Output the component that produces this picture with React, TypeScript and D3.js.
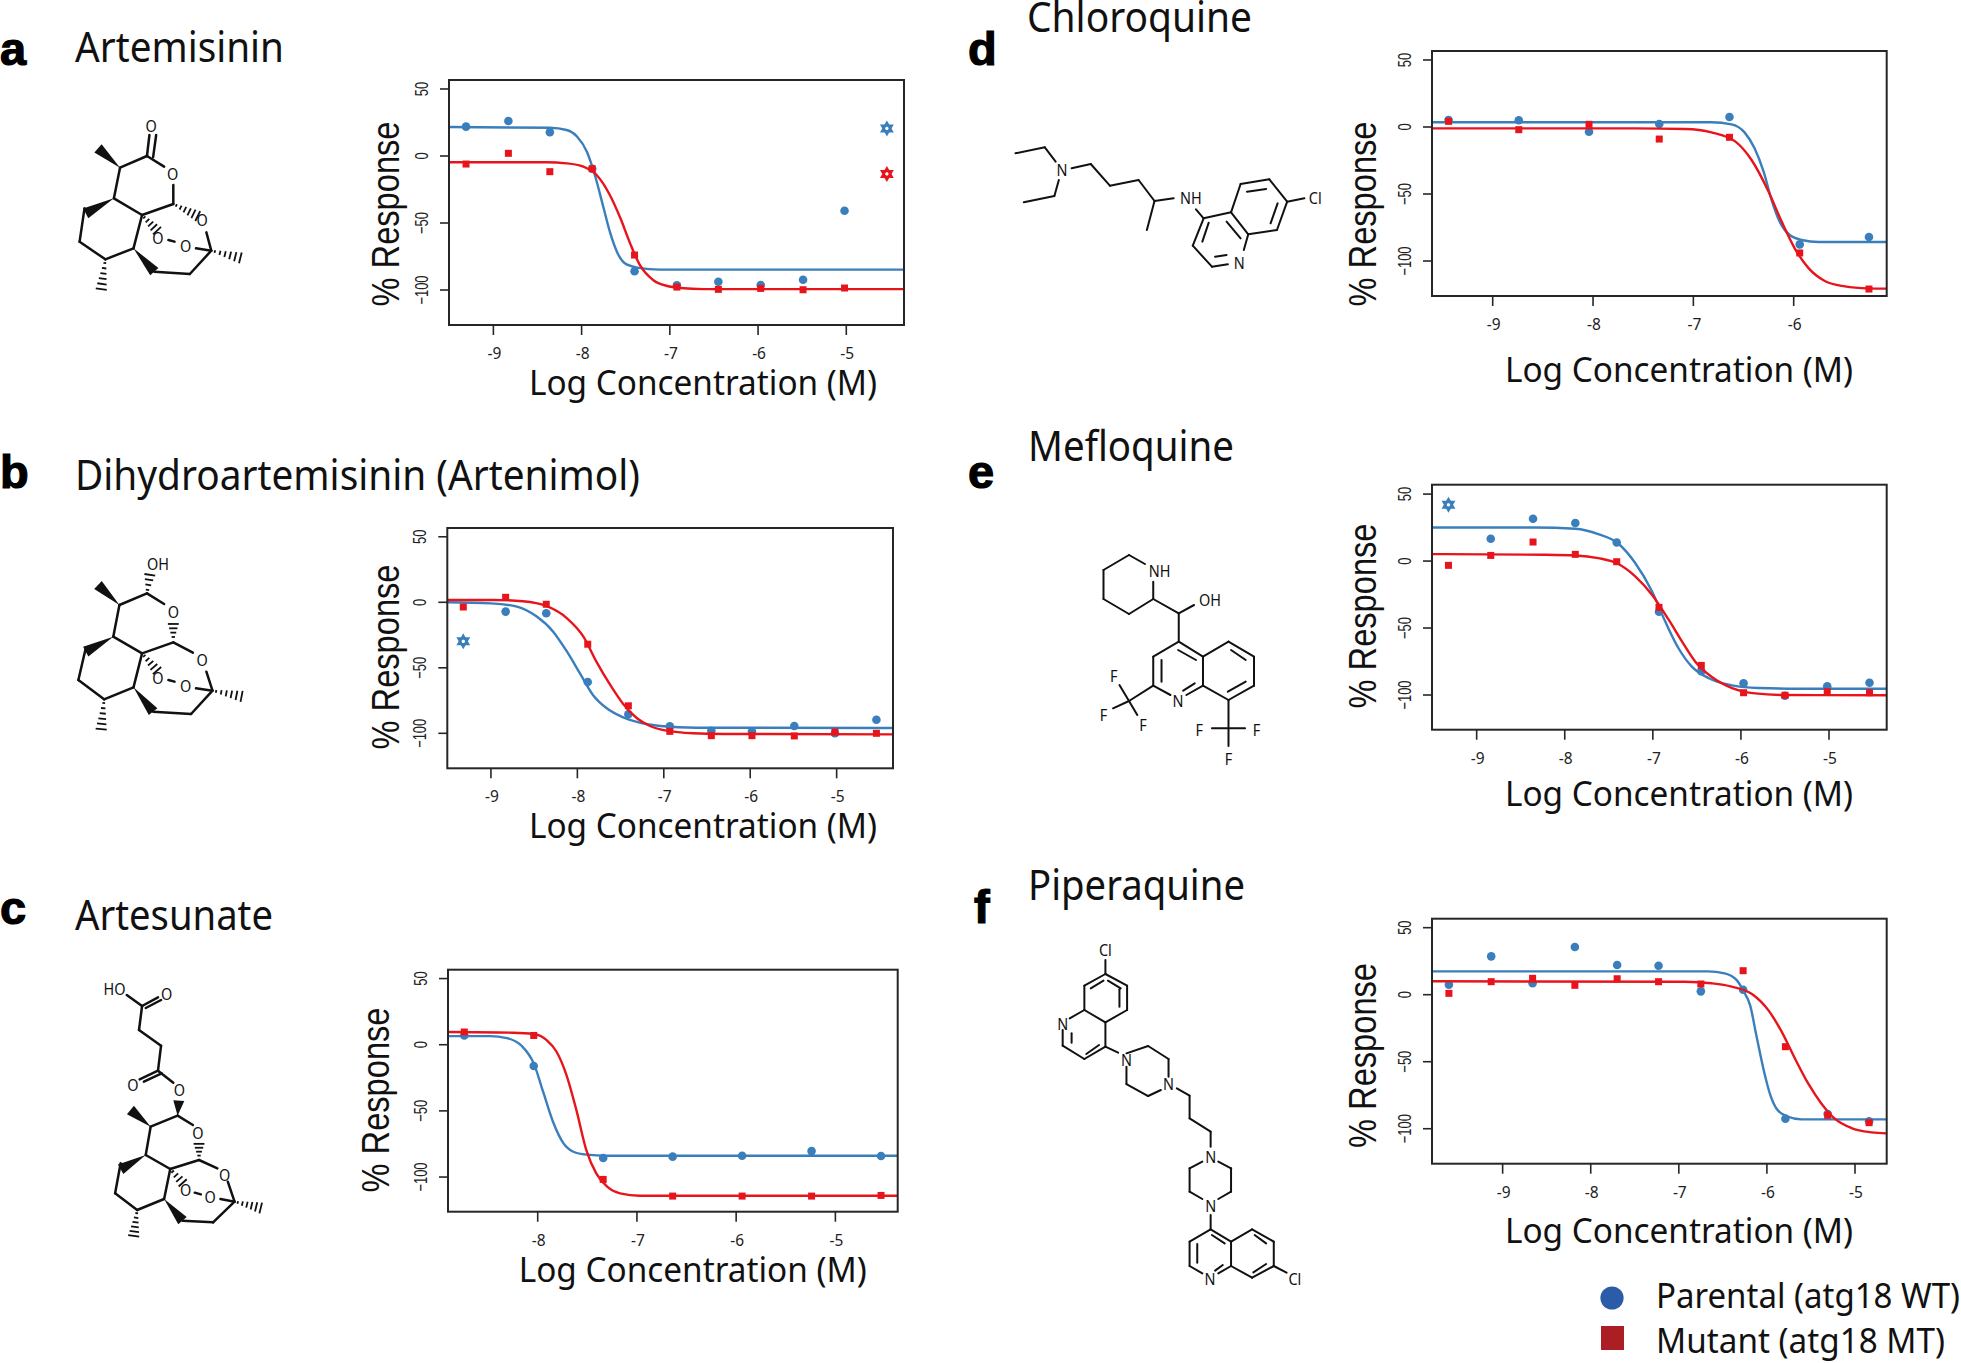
import React from "react";
import * as d3 from "d3";

// ---------- DATA ----------
const yTickValues = [50, 0, -50, -100];

const artemisininDoses = [-9.31, -8.83, -8.36, -7.88, -7.4, -6.92, -6.45, -5.97, -5.49, -5.02];
const artemisininParental = [21.9, 26.1, 17.7, -9.5, -86, -96.5, -93.8, -96.3, -92.3, -40.8];
const artemisininMutant = [-6, 2, -11.7, -9.5, -73.9, -97.8, -99.5, -98.8, -99.8, -98.5];
const artemisininExcludedDose = [-4.54];
const artemisininExcludedParental = [20.6];
const artemisininExcludedMutant = [-13.4];
const artemisininFitParentalX = [-9.5, -8.36, -8.17, -8.05, -7.94, -7.85, -7.75, -7.68, -7.6, -7.51, -7.37, -7.11, -4.35];
const artemisininFitParentalY = [21.6, 21.1, 19.4, 14.4, 3.2, -14.2, -39, -56.5, -71.4, -80.1, -83.3, -84.8, -84.8];
const artemisininFitMutantX = [-9.5, -8.4, -8.17, -7.98, -7.83, -7.68, -7.56, -7.45, -7.34, -7.19, -7.03, -6.88, -6.62, -4.35];
const artemisininFitMutantY = [-4.7, -4.7, -5.5, -8, -14.2, -29.1, -46.5, -65.2, -81.3, -92.5, -97, -98.5, -99.3, -99.3];

const dhaDoses = [-8.83, -8.36, -7.88, -7.41, -6.93, -6.45, -5.98, -5.49, -5.02, -4.54];
const dhaParental = [-7.1, -8.4, -60.8, -85.5, -94.7, -98, -98.7, -94.4, -100, -89.6];
const dhaMutant = [3.8, -1.5, -32, -79, -98.5, -101.8, -101.8, -102, -99, -100];
const dhaExcludedDose = [-9.32];
const dhaExcludedParental = [-29.8];
const dhaMutantLowDose = [-9.32];
const dhaMutantLowValue = [-3.6];
const dhaFitParentalX = [-9.51, -9, -8.7, -8.47, -8.28, -8.12, -7.97, -7.82, -7.66, -7.47, -7.28, -7.04, -6.62, -4.35];
const dhaFitParentalY = [0, -0.8, -3.3, -10.9, -22.4, -37.7, -54.2, -70.7, -80.9, -87.8, -91.9, -94.4, -95.7, -95.9];
const dhaFitMutantX = [-9.51, -8.97, -8.63, -8.36, -8.12, -7.93, -7.78, -7.62, -7.47, -7.31, -7.16, -6.97, -6.66, -6.31, -4.35];
const dhaFitMutantY = [1.8, 1.8, 0.8, -2.8, -12.2, -26.2, -45.3, -63.1, -77.6, -88.5, -94.4, -98, -100, -100.5, -100.8];

const artesunateDoses = [-8.74, -8.04, -7.34, -6.64, -5.94, -5.24, -4.54];
const artesunateParental = [7, -16.1, -85.6, -84.6, -83.9, -80.4, -84.1];
const artesunateMutant = [9.6, 7, -101.8, -114.4, -114.4, -114.4, -113.9];
const artesunateFitParentalX = [-8.9, -8.48, -8.31, -8.16, -8.04, -7.94, -7.84, -7.74, -7.64, -7.51, -7.3, -4.37];
const artesunateFitParentalY = [6.5, 6.5, 5, -1, -14.1, -36.8, -59.4, -74.6, -80.9, -83.1, -83.9, -83.9];
const artesunateFitMutantX = [-8.9, -8.25, -8.04, -7.91, -7.81, -7.71, -7.61, -7.51, -7.41, -7.3, -7.17, -6.97, -4.37];
const artesunateFitMutantY = [9.6, 9.1, 8.1, 3.5, -5.3, -22.9, -49.4, -79.6, -97.2, -107.3, -112.3, -114.1, -114.1];

const chloroquineDoses = [-9.44, -8.74, -8.04, -7.34, -6.64, -5.94, -5.25];
const chloroquineParental = [5.2, 5, -3.5, 2.2, 7.5, -87.6, -82.1];
const chloroquineMutant = [4.2, -2, 2, -9, -7.7, -94, -120.9];
const chloroquineFitParentalX = [-9.6, -6.82, -6.62, -6.49, -6.39, -6.3, -6.22, -6.14, -6.04, -5.92, -5.75, -5.07];
const chloroquineFitParentalY = [3.5, 3.5, 2, -4, -15.9, -33.3, -54.5, -70.6, -80.6, -84.3, -85.8, -85.8];
const chloroquineFitMutantX = [-9.6, -7.58, -7.08, -6.82, -6.58, -6.42, -6.25, -6.12, -5.99, -5.85, -5.69, -5.49, -5.26, -5.07];
const chloroquineFitMutantY = [-1, -1, -1.5, -4, -10.9, -24.6, -48.3, -70.6, -90.5, -105.5, -114.9, -118.9, -120.4, -120.6];

const mefloquineDoses = [-8.84, -8.36, -7.88, -7.41, -6.93, -6.45, -5.97, -5.5, -5.02, -4.54];
const mefloquineParental = [16.7, 31.6, 28.4, 13.9, -37.8, -82.3, -91.3, -100.5, -93.5, -90.8];
const mefloquineMutant = [4.2, 14.2, 5, -0.5, -34.6, -77.9, -98.3, -100.2, -97.5, -98.3];
const mefloquineExcludedDose = [-9.32];
const mefloquineExcludedParental = [42];
const mefloquineMutantLowDose = [-9.32];
const mefloquineMutantLowValue = [-3.2];
const mefloquineFitParentalX = [-9.51, -8.34, -7.88, -7.62, -7.39, -7.2, -7.01, -6.86, -6.71, -6.56, -6.37, -6.1, -5.8, -5.35, -4.35];
const mefloquineFitParentalY = [25.1, 25.1, 24.1, 20.1, 12.9, -1.5, -22.6, -45, -64.9, -78.6, -87.3, -92.8, -94.8, -95.3, -95.3];
const mefloquineFitMutantX = [-9.51, -8.22, -7.88, -7.62, -7.39, -7.2, -7.01, -6.82, -6.67, -6.52, -6.33, -6.1, -5.84, -5.5, -4.35];
const mefloquineFitMutantY = [5.2, 4.7, 4.2, 2.2, -2.2, -11.4, -25.1, -43.8, -59.9, -74.9, -86.6, -94.8, -98.8, -100, -100.2];

const piperaquineDoses = [-9.61, -9.13, -8.66, -8.18, -7.7, -7.23, -6.75, -6.27, -5.79, -5.31, -4.84];
const piperaquineParental = [7.5, 28.6, 8.5, 35.6, 22.1, 21.6, 2.5, 3.7, -92.5, -89, -94.5];
const piperaquineMutant = [1, 9.7, 12.2, 7, 11.9, 9.7, 8, 17.9, -38.8, -90, -95.5];
const piperaquineFitParentalX = [-9.8, -6.67, -6.48, -6.34, -6.27, -6.19, -6.12, -6.04, -5.96, -5.89, -5.78, -5.61, -4.64];
const piperaquineFitParentalY = [17.4, 17.4, 15.9, 10.7, 3.2, -8, -30.3, -55.2, -75.1, -85.1, -90.5, -93, -93];
const piperaquineFitMutantX = [-9.8, -6.93, -6.63, -6.4, -6.17, -5.98, -5.83, -5.68, -5.53, -5.38, -5.23, -5.04, -4.81, -4.64];
const piperaquineFitMutantY = [10, 9.7, 8.5, 6, 0.5, -11.9, -27.9, -47.8, -66.4, -81.3, -92.5, -99.5, -102.7, -103.5];

const seriesNames = ["Parental (atg18 WT)", "Mutant (atg18 MT)"];
const xAxisTitle = "Log Concentration (M)";
const yAxisTitle = "% Response";

// ---------- STYLE ----------
const BLUE = "#3a7fbc";
const RED = "#e8141c";
const INK = "#262626";
const SANS = "'Noto Sans', sans-serif";
const HELV = "'Liberation Sans', sans-serif";

const zip = (a: number[], b: number[]) => a.map((v, i) => [v, b[i]] as [number, number]);

type Panel = {
  letter: string; letterX: number; letterY: number;
  title: string; titleX: number; titleY: number; titleW: number;
  box: [number, number, number, number];
  xDomain: [number, number]; yDomain: [number, number];
  xTicks: number[];
  blue: [number, number][]; red: [number, number][];
  blueStar: [number, number][]; redStar: [number, number][];
  fitBlue: [number, number][]; fitRed: [number, number][];
  xLabelX: number; xLabelY: number;
  yLabelX: number; yLabelMid: number;
};

const panels: Panel[] = [
  {
    letter: "a", letterX: 0, letterY: 65, title: "Artemisinin", titleX: 75, titleY: 62, titleW: 209,
    box: [449, 80, 904, 325], xDomain: [-9.503, -4.346], yDomain: [-126.1, 56.7], xTicks: [-9, -8, -7, -6, -5],
    blue: zip(artemisininDoses, artemisininParental), red: zip(artemisininDoses, artemisininMutant),
    blueStar: zip(artemisininExcludedDose, artemisininExcludedParental), redStar: zip(artemisininExcludedDose, artemisininExcludedMutant),
    fitBlue: zip(artemisininFitParentalX, artemisininFitParentalY), fitRed: zip(artemisininFitMutantX, artemisininFitMutantY),
    xLabelX: 529, xLabelY: 395, yLabelX: 399, yLabelMid: 214,
  },
  {
    letter: "b", letterX: 0, letterY: 488, title: "Dihydroartemisinin (Artenimol)", titleX: 75, titleY: 490, titleW: 565,
    box: [447.3, 528, 893, 768.3], xDomain: [-9.505, -4.348], yDomain: [-126.7, 56.7], xTicks: [-9, -8, -7, -6, -5],
    blue: zip(dhaDoses, dhaParental), red: [...zip(dhaDoses, dhaMutant), ...zip(dhaMutantLowDose, dhaMutantLowValue)],
    blueStar: zip(dhaExcludedDose, dhaExcludedParental), redStar: [],
    fitBlue: zip(dhaFitParentalX, dhaFitParentalY), fitRed: zip(dhaFitMutantX, dhaFitMutantY),
    xLabelX: 529, xLabelY: 838, yLabelX: 399, yLabelMid: 657,
  },
  {
    letter: "c", letterX: 0, letterY: 924, title: "Artesunate", titleX: 75, titleY: 930, titleW: 198,
    box: [448, 969.7, 897.7, 1211.7], xDomain: [-8.904, -4.372], yDomain: [-126.2, 56.7], xTicks: [-8, -7, -6, -5],
    blue: zip(artesunateDoses, artesunateParental), red: zip(artesunateDoses, artesunateMutant),
    blueStar: [], redStar: [],
    fitBlue: zip(artesunateFitParentalX, artesunateFitParentalY), fitRed: zip(artesunateFitMutantX, artesunateFitMutantY),
    xLabelX: 518.7, xLabelY: 1281.7, yLabelX: 389, yLabelMid: 1100,
  },
  {
    letter: "d", letterX: 968, letterY: 65, title: "Chloroquine", titleX: 1027, titleY: 31.7, titleW: 225,
    box: [1432, 51, 1886.7, 296], xDomain: [-9.605, -5.073], yDomain: [-126.1, 56.7], xTicks: [-9, -8, -7, -6],
    blue: zip(chloroquineDoses, chloroquineParental), red: zip(chloroquineDoses, chloroquineMutant),
    blueStar: [], redStar: [],
    fitBlue: zip(chloroquineFitParentalX, chloroquineFitParentalY), fitRed: zip(chloroquineFitMutantX, chloroquineFitMutantY),
    xLabelX: 1505, xLabelY: 381.7, yLabelX: 1376, yLabelMid: 214,
  },
  {
    letter: "e", letterX: 968, letterY: 488, title: "Mefloquine", titleX: 1028, titleY: 460.7, titleW: 206,
    box: [1432, 484.7, 1886.7, 729.7], xDomain: [-9.507, -4.345], yDomain: [-125.9, 57], xTicks: [-9, -8, -7, -6, -5],
    blue: zip(mefloquineDoses, mefloquineParental), red: [...zip(mefloquineDoses, mefloquineMutant), ...zip(mefloquineMutantLowDose, mefloquineMutantLowValue)],
    blueStar: zip(mefloquineExcludedDose, mefloquineExcludedParental), redStar: [],
    fitBlue: zip(mefloquineFitParentalX, mefloquineFitParentalY), fitRed: zip(mefloquineFitMutantX, mefloquineFitMutantY),
    xLabelX: 1505, xLabelY: 805.7, yLabelX: 1376, yLabelMid: 616,
  },
  {
    letter: "f", letterX: 974, letterY: 923, title: "Piperaquine", titleX: 1028, titleY: 900, titleW: 217,
    box: [1432, 918.7, 1886.7, 1163.7], xDomain: [-9.802, -4.64], yDomain: [-126.1, 56.7], xTicks: [-9, -8, -7, -6, -5],
    blue: zip(piperaquineDoses, piperaquineParental), red: zip(piperaquineDoses, piperaquineMutant),
    blueStar: [], redStar: [],
    fitBlue: zip(piperaquineFitParentalX, piperaquineFitParentalY), fitRed: zip(piperaquineFitMutantX, piperaquineFitMutantY),
    xLabelX: 1505, xLabelY: 1242.7, yLabelX: 1376, yLabelMid: 1055.5,
  },
];

// ---------- CHEMICAL STRUCTURES (illustrations, not data) ----------
type Mol = {
  ox: number; oy: number; sx: number; sy: number;
  bonds: number[][]; wedges: number[][]; hashes: number[][];
  atoms: [string, number, number][];
};

const artemisininMol: Mol = {
  ox: 0, oy: 0, sx: 1 / 1.633, sy: 1 / 3,
  bonds: [
    [240, 468, 244, 405], [250, 472, 255, 405], [196, 503, 240, 468], [196, 503, 186, 595], [186, 595, 232, 645],
    [240, 468, 268, 500], [283, 555, 283, 612], [283, 612, 232, 645], [337, 697, 345, 752], [345, 752, 310, 822],
    [310, 822, 252, 815], [232, 645, 218, 745], [218, 745, 172, 778], [172, 778, 130, 725], [130, 725, 138, 625],
    [275, 720, 285, 725], [320, 745, 345, 752],
  ],
  wedges: [[196, 503, 160, 445], [186, 595, 140, 640], [218, 745, 252, 815]],
  hashes: [[283, 612, 325, 650], [345, 752, 395, 775], [172, 778, 165, 872], [232, 645, 258, 695]],
  atoms: [["O", 247, 378], ["O", 282, 522], ["O", 330, 660], ["O", 258, 712], ["O", 303, 737]],
};

const dhaMol: Mol = {
  ox: 0, oy: 440, sx: 1 / 1.633, sy: 1 / 3,
  bonds: [
    [195, 495, 240, 460], [240, 460, 268, 492], [195, 495, 185, 590], [185, 590, 232, 640], [283, 607, 232, 640],
    [283, 607, 315, 638], [337, 695, 347, 752], [347, 752, 312, 822], [312, 822, 250, 815], [232, 640, 218, 742],
    [218, 742, 170, 778], [170, 778, 128, 720], [128, 720, 140, 625], [275, 720, 285, 725], [320, 745, 347, 752],
  ],
  wedges: [[195, 495, 160, 435], [185, 590, 140, 635], [218, 742, 250, 815]],
  hashes: [[240, 460, 245, 400], [283, 600, 283, 548], [347, 752, 397, 770], [170, 778, 165, 872], [232, 640, 258, 695]],
  atoms: [["OH", 258, 370], ["O", 283, 515], ["O", 330, 660], ["O", 258, 712], ["O", 303, 737]],
};

const artesunateMol: Mol = {
  ox: 0, oy: 880, sx: 1 / 1.633, sy: 1 / 3,
  bonds: [
    [207, 345, 232, 378], [232, 378, 258, 352], [238, 384, 263, 360], [232, 378, 227, 450], [227, 450, 263, 497],
    [263, 497, 258, 572], [258, 572, 228, 598], [264, 580, 235, 605], [258, 572, 283, 608], [290, 707, 246, 740],
    [290, 707, 315, 735], [246, 740, 238, 825], [238, 825, 278, 867], [325, 840, 278, 867], [197, 850, 188, 940],
    [188, 940, 224, 990], [224, 990, 268, 957], [278, 867, 268, 957], [298, 1022, 348, 1027], [348, 1027, 383, 965],
    [325, 840, 355, 865], [372, 905, 383, 965], [360, 957, 383, 965], [318, 938, 328, 943],
  ],
  wedges: [[290, 707, 292, 662], [246, 740, 213, 690], [238, 825, 197, 868], [268, 957, 298, 1022]],
  hashes: [[325, 835, 325, 788], [383, 965, 428, 985], [224, 990, 218, 1072], [278, 867, 300, 912]],
  atoms: [["HO", 187, 327], ["O", 272, 342], ["O", 217, 613], ["O", 293, 628], ["O", 323, 758], ["O", 367, 885], ["O", 303, 930], ["O", 343, 950]],
};

const chloroquineMol: Mol = {
  ox: 960, oy: 0, sx: 1 / 1.568, sy: 1 / 3,
  bonds: [
    [87, 460, 133, 442], [133, 442, 150, 485], [155, 540, 148, 588], [148, 588, 100, 607], [175, 505, 205, 492],
    [205, 492, 235, 557], [235, 557, 280, 540], [280, 540, 305, 603], [305, 603, 293, 690], [305, 603, 335, 595],
    [370, 628, 382, 655], [382, 655, 425, 637], [425, 637, 452, 703], [382, 655, 365, 737], [365, 737, 395, 800],
    [395, 800, 420, 793], [445, 750, 452, 703], [390, 668, 380, 725], [400, 770, 418, 765], [418, 665, 440, 715],
    [425, 637, 440, 552], [440, 552, 485, 538], [485, 538, 513, 605], [513, 605, 497, 690], [497, 690, 452, 703],
    [450, 575, 480, 567], [498, 610, 487, 670], [513, 605, 540, 595],
  ],
  wedges: [], hashes: [],
  atoms: [["N", 160, 510], ["NH", 362, 593], ["N", 438, 787], ["Cl", 557, 593]],
};

const mefloquineMol: Mol = {
  ox: 960, oy: 420, sx: 1 / 1.568, sy: 1 / 3,
  bonds: [
    [265, 405, 225, 450], [225, 450, 225, 537], [225, 537, 265, 582], [265, 582, 303, 537], [303, 537, 303, 485],
    [265, 405, 290, 432], [303, 537, 343, 580], [343, 580, 367, 555], [343, 580, 343, 665], [343, 665, 303, 710],
    [303, 710, 303, 797], [303, 797, 330, 825], [355, 825, 381, 797], [381, 797, 381, 710], [381, 710, 343, 665],
    [316, 720, 316, 785], [342, 690, 370, 720], [350, 812, 368, 790], [381, 710, 421, 665], [421, 665, 461, 710],
    [461, 710, 461, 797], [461, 797, 421, 840], [421, 840, 381, 797], [425, 690, 448, 720], [448, 785, 420, 815],
    [303, 797, 265, 843], [265, 843, 250, 795], [265, 843, 240, 865], [265, 843, 278, 885], [421, 840, 421, 978],
    [395, 925, 447, 925],
  ],
  wedges: [], hashes: [],
  atoms: [
    ["NH", 313, 453], ["OH", 392, 540], ["N", 342, 842], ["F", 241, 767], ["F", 225, 884], ["F", 287, 914],
    ["F", 375, 928], ["F", 465, 928], ["F", 421, 1015],
  ],
};

const piperaquineMol: Mol = {
  ox: 960, oy: 860, sx: 1 / 1.568, sy: 1 / 3,
  bonds: [
    [228, 300, 228, 342], [228, 342, 262, 377], [262, 377, 262, 450], [262, 450, 228, 487], [228, 487, 195, 450],
    [195, 450, 195, 377], [195, 377, 228, 342], [232, 362, 252, 385], [250, 388, 250, 440], [205, 385, 225, 362],
    [195, 450, 172, 475], [161, 510, 161, 557], [161, 557, 195, 597], [195, 597, 228, 560], [228, 560, 228, 487],
    [175, 520, 175, 548], [198, 582, 218, 555], [228, 560, 248, 578], [261, 580, 295, 558], [295, 558, 327, 597],
    [327, 597, 327, 650], [315, 690, 295, 708], [295, 708, 261, 672], [261, 672, 261, 620], [340, 685, 360, 707],
    [360, 707, 360, 775], [360, 775, 393, 815], [393, 815, 393, 860], [380, 905, 360, 925], [360, 925, 360, 995],
    [360, 995, 380, 1017], [405, 1017, 425, 995], [425, 995, 425, 925], [425, 925, 405, 905], [393, 1065, 393, 1108],
    [393, 1108, 360, 1145], [360, 1145, 360, 1218], [360, 1218, 380, 1240], [405, 1240, 425, 1218], [425, 1218, 425, 1145],
    [425, 1145, 393, 1108], [372, 1152, 372, 1208], [395, 1125, 415, 1150], [400, 1232, 412, 1215], [425, 1145, 458, 1108],
    [458, 1108, 492, 1145], [492, 1145, 492, 1218], [492, 1218, 458, 1253], [458, 1253, 425, 1218], [462, 1125, 480, 1150],
    [480, 1212, 460, 1237], [492, 1218, 512, 1238],
  ],
  wedges: [], hashes: [],
  atoms: [
    ["Cl", 228, 270], ["N", 161, 490], ["N", 261, 600], ["N", 327, 672], ["N", 393, 890], ["N", 393, 1038],
    ["N", 392, 1255], ["Cl", 525, 1255],
  ],
};

const molecules = [artemisininMol, dhaMol, artesunateMol, chloroquineMol, mefloquineMol, piperaquineMol];

function Molecule({ m }: { m: Mol }) {
  const X = (v: number) => m.ox + v * m.sx;
  const Y = (v: number) => m.oy + v * m.sy;
  const strong = m === artemisininMol || m === dhaMol || m === artesunateMol;
  return (
    <g>
      {m.bonds.map((b, i) => (
        <line key={"b" + i} x1={X(b[0])} y1={Y(b[1])} x2={X(b[2])} y2={Y(b[3])} stroke="#111" strokeWidth={strong ? 2.5 : 2} strokeLinecap="round" />
      ))}
      {m.wedges.map((b, i) => {
        const x1 = X(b[0]), y1 = Y(b[1]), x2 = X(b[2]), y2 = Y(b[3]);
        const L = Math.hypot(x2 - x1, y2 - y1) || 1;
        const nx = (-(y2 - y1) / L) * 5.5, ny = ((x2 - x1) / L) * 5.5;
        return <polygon key={"w" + i} points={`${x1},${y1} ${x2 + nx},${y2 + ny} ${x2 - nx},${y2 - ny}`} fill="#111" />;
      })}
      {m.hashes.map((b, i) => {
        const x1 = X(b[0]), y1 = Y(b[1]), x2 = X(b[2]), y2 = Y(b[3]);
        const L = Math.hypot(x2 - x1, y2 - y1) || 1;
        const ux = (x2 - x1) / L, uy = (y2 - y1) / L;
        const n = Math.max(4, Math.round(L / 5));
        return (
          <g key={"h" + i}>
            {d3.range(n).map((k) => {
              const t = (k + 0.7) / n;
              const px = x1 + (x2 - x1) * t, py = y1 + (y2 - y1) * t;
              const w = 0.8 + 5 * t;
              return <line key={k} x1={px - uy * w} y1={py + ux * w} x2={px + uy * w} y2={py - ux * w} stroke="#111" strokeWidth={1.8} />;
            })}
          </g>
        );
      })}
      {m.atoms.map((a, i) => (
        <text key={"a" + i} x={X(a[1])} y={Y(a[2]) + 6.4} textAnchor="middle" fontFamily={SANS} fontSize={17} fill="#111"
          transform={`translate(${X(a[1])} 0) scale(0.85 1) translate(${-X(a[1])} 0)`}>{a[0]}</text>
      ))}
    </g>
  );
}

function Star({ x, y, color }: { x: number; y: number; color: string }) {
  const r = 5.6;
  const up = d3.range(3).map((i) => { const a = -Math.PI / 2 + (i * 2 * Math.PI) / 3; return `${x + r * Math.cos(a)},${y + r * Math.sin(a)}`; }).join(" ");
  const dn = d3.range(3).map((i) => { const a = Math.PI / 2 + (i * 2 * Math.PI) / 3; return `${x + r * Math.cos(a)},${y + r * Math.sin(a)}`; }).join(" ");
  return (
    <g fill="none" stroke={color} strokeWidth={2.4}>
      <polygon points={up} /><polygon points={dn} />
    </g>
  );
}

function Chart({ p }: { p: Panel }) {
  const [l, t, r, b] = p.box;
  const x = d3.scaleLinear().domain(p.xDomain).range([l, r]);
  const y = d3.scaleLinear().domain(p.yDomain).range([b, t]);
  const line = d3.line<[number, number]>().x((d) => x(d[0])).y((d) => y(d[1])).curve(d3.curveMonotoneX);
  return (
    <g>
      <path d={line(p.fitBlue) || ""} fill="none" stroke={BLUE} strokeWidth={2.4} />
      {p.blue.map((d, i) => <circle key={i} cx={x(d[0])} cy={y(d[1])} r={4.3} fill={BLUE} />)}
      {p.blueStar.map((d, i) => <Star key={i} x={x(d[0])} y={y(d[1])} color={BLUE} />)}
      <path d={line(p.fitRed) || ""} fill="none" stroke={RED} strokeWidth={2.4} />
      {p.red.map((d, i) => <rect key={i} x={x(d[0]) - 3.5} y={y(d[1]) - 3.5} width={7} height={7} fill={RED} />)}
      {p.redStar.map((d, i) => <Star key={i} x={x(d[0])} y={y(d[1])} color={RED} />)}

      <rect x={l} y={t} width={r - l} height={b - t} fill="none" stroke={INK} strokeWidth={2} />
      {yTickValues.map((v) => (
        <g key={v}>
          <line x1={l - 9} x2={l} y1={y(v)} y2={y(v)} stroke={INK} strokeWidth={1.6} />
          <text fontFamily={HELV} fontSize={19} fill="#222" textAnchor="middle"
            transform={`translate(${l - 21} ${y(v)}) rotate(-90) scale(0.68 1)`}>{v < 0 ? "\u2212" + -v : v}</text>
        </g>
      ))}
      {p.xTicks.map((v) => (
        <g key={v}>
          <line x1={x(v)} x2={x(v)} y1={b} y2={b + 10} stroke={INK} strokeWidth={1.6} />
          <text x={x(v) + 1} y={b + 34} fontFamily={SANS} fontSize={15.5} fill="#222" textAnchor="middle">{v}</text>
        </g>
      ))}

      <text x={p.xLabelX} y={p.xLabelY} fontFamily={SANS} fontSize={34.5} fill="#111" textLength={348} lengthAdjust="spacingAndGlyphs">{xAxisTitle}</text>
      <text fontFamily={HELV} fontSize={38} fill="#111" textAnchor="middle" textLength={185} lengthAdjust="spacingAndGlyphs"
        transform={`translate(${p.yLabelX} ${p.yLabelMid}) rotate(-90)`}>{yAxisTitle}</text>

      <text x={p.titleX} y={p.titleY} fontFamily={SANS} fontSize={41} fill="#111" textLength={p.titleW} lengthAdjust="spacingAndGlyphs">{p.title}</text>
      <text x={p.letterX} y={p.letterY} fontFamily={HELV} fontWeight={700} fontSize={47} fill="#000" stroke="#000" strokeWidth={1.2}>{p.letter}</text>
    </g>
  );
}

export default function App() {
  return (
    <svg width={1961} height={1363} viewBox="0 0 1961 1363" style={{ position: "absolute", left: 0, top: 0, display: "block", background: "#fff" }}>
      {molecules.map((m, i) => <Molecule key={i} m={m} />)}
      {panels.map((p) => <Chart key={p.letter} p={p} />)}
      <circle cx={1612} cy={1298} r={11.6} fill="#2a5ca8" />
      <rect x={1601} y={1326} width={23} height={24} fill="#ab1f24" />
      <text x={1656} y={1308} fontFamily={SANS} fontSize={35} fill="#111" textLength={304} lengthAdjust="spacingAndGlyphs">{seriesNames[0]}</text>
      <text x={1656} y={1353} fontFamily={SANS} fontSize={35} fill="#111" textLength={289} lengthAdjust="spacingAndGlyphs">{seriesNames[1]}</text>
    </svg>
  );
}
